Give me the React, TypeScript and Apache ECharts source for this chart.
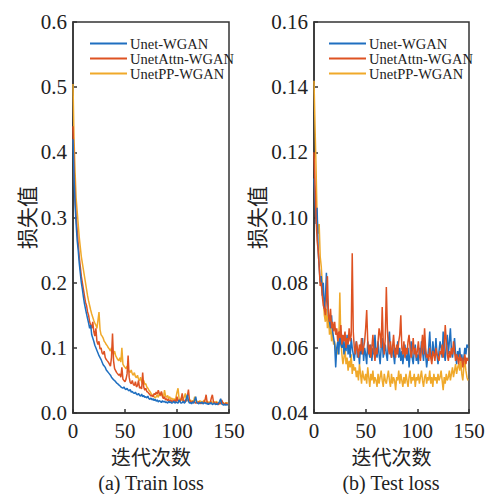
import React, { useEffect, useRef } from "react";
import * as echarts from "echarts";

const seriesNames = ["Unet-WGAN", "UnetAttn-WGAN", "UnetPP-WGAN"];
const colors = ["#1f6fc0", "#de5222", "#f0a92a"];

const trainTicks = [0, 0.1, 0.2, 0.3, 0.4, 0.5, 0.6];
const testTicks = [0.04, 0.06, 0.08, 0.1, 0.12, 0.14, 0.16];
const xTicks = [0, 50, 100, 150];

const trainUnet = [
  0.42,0.36,0.32,0.29,0.265,0.25,0.23,0.215,0.2,0.19,
  0.178,0.168,0.16,0.152,0.145,0.138,0.13,0.135,0.12,0.115,
  0.11,0.104,0.1,0.096,0.092,0.088,0.085,0.082,0.078,0.074,
  0.072,0.07,0.066,0.064,0.062,0.06,0.058,0.055,0.053,0.051,
  0.05,0.048,0.046,0.045,0.043,0.042,0.04,0.039,0.038,0.04,
  0.037,0.036,0.038,0.035,0.034,0.036,0.032,0.033,0.031,0.03,
  0.032,0.029,0.028,0.03,0.027,0.026,0.029,0.025,0.027,0.024,
  0.025,0.023,0.026,0.022,0.021,0.023,0.02,0.022,0.019,0.021,
  0.018,0.02,0.017,0.019,0.018,0.016,0.019,0.017,0.018,0.016,
  0.017,0.015,0.018,0.016,0.017,0.015,0.016,0.018,0.015,0.017,
  0.016,0.015,0.02,0.017,0.015,0.016,0.018,0.015,0.017,0.022,
  0.028,0.018,0.015,0.016,0.014,0.017,0.015,0.02,0.025,0.016,
  0.015,0.014,0.016,0.015,0.017,0.014,0.015,0.016,0.014,0.015,
  0.013,0.015,0.014,0.016,0.013,0.014,0.015,0.013,0.014,0.013,
  0.015,0.018,0.022,0.014,0.013,0.012,0.014,0.012,0.013,0.012,
];
const trainAttn = [
  0.44,0.38,0.33,0.3,0.28,0.26,0.24,0.225,0.21,0.2,
  0.19,0.18,0.17,0.165,0.155,0.15,0.14,0.135,0.13,0.14,
  0.125,0.118,0.13,0.11,0.105,0.11,0.098,0.1,0.092,0.09,
  0.095,0.085,0.082,0.08,0.078,0.075,0.072,0.085,0.122,0.08,
  0.068,0.065,0.062,0.06,0.058,0.06,0.055,0.07,0.052,0.05,
  0.048,0.052,0.06,0.088,0.055,0.047,0.045,0.05,0.044,0.042,
  0.048,0.04,0.042,0.05,0.038,0.04,0.037,0.062,0.04,0.035,
  0.038,0.033,0.032,0.03,0.028,0.026,0.027,0.025,0.03,0.028,
  0.032,0.029,0.035,0.03,0.027,0.033,0.025,0.022,0.025,0.02,
  0.022,0.019,0.021,0.018,0.02,0.017,0.019,0.018,0.02,0.017,
  0.025,0.018,0.02,0.017,0.022,0.03,0.019,0.017,0.02,0.018,
  0.026,0.036,0.02,0.017,0.016,0.018,0.016,0.017,0.015,0.016,
  0.015,0.017,0.016,0.014,0.016,0.015,0.017,0.02,0.028,0.016,
  0.015,0.014,0.016,0.023,0.028,0.018,0.015,0.014,0.016,0.014,
  0.013,0.015,0.014,0.02,0.016,0.014,0.013,0.015,0.014,0.013,
];
const trainPP = [
  0.505,0.42,0.37,0.33,0.31,0.29,0.27,0.255,0.24,0.23,
  0.22,0.21,0.2,0.19,0.18,0.172,0.165,0.158,0.152,0.147,
  0.142,0.138,0.135,0.13,0.142,0.155,0.128,0.12,0.118,0.115,
  0.11,0.108,0.105,0.103,0.1,0.098,0.095,0.1,0.093,0.09,
  0.095,0.088,0.085,0.082,0.08,0.085,0.078,0.1,0.075,0.072,
  0.07,0.068,0.072,0.066,0.064,0.062,0.066,0.06,0.058,0.062,
  0.056,0.054,0.058,0.052,0.05,0.055,0.048,0.046,0.05,0.044,
  0.045,0.04,0.038,0.035,0.033,0.03,0.028,0.026,0.025,0.023,
  0.025,0.028,0.024,0.03,0.026,0.032,0.027,0.024,0.035,0.026,
  0.024,0.027,0.022,0.025,0.021,0.023,0.02,0.022,0.019,0.024,
  0.032,0.038,0.022,0.02,0.023,0.019,0.021,0.025,0.03,0.02,
  0.019,0.021,0.018,0.02,0.017,0.019,0.018,0.025,0.019,0.017,
  0.018,0.016,0.019,0.017,0.018,0.016,0.02,0.017,0.016,0.018,
  0.016,0.017,0.015,0.018,0.016,0.015,0.017,0.016,0.018,0.015,
  0.016,0.015,0.017,0.014,0.016,0.015,0.014,0.016,0.015,0.016,
];

const testUnet = [
  0.112,0.105,0.098,0.103,0.09,0.085,0.08,0.082,0.076,0.08,
  0.072,0.075,0.083,0.075,0.07,0.068,0.066,0.07,0.065,0.063,
  0.061,0.054,0.06,0.062,0.058,0.065,0.061,0.06,0.063,0.058,
  0.062,0.059,0.064,0.058,0.061,0.057,0.063,0.06,0.058,0.056,
  0.06,0.062,0.057,0.059,0.055,0.061,0.058,0.063,0.056,0.06,
  0.058,0.055,0.062,0.059,0.057,0.061,0.056,0.06,0.058,0.064,
  0.059,0.057,0.062,0.058,0.055,0.06,0.063,0.057,0.059,0.061,
  0.058,0.056,0.062,0.065,0.059,0.057,0.061,0.058,0.055,0.06,
  0.058,0.062,0.057,0.06,0.056,0.059,0.055,0.058,0.061,0.057,
  0.056,0.06,0.054,0.058,0.062,0.057,0.055,0.059,0.061,0.056,
  0.058,0.055,0.06,0.057,0.062,0.059,0.056,0.061,0.058,0.054,
  0.057,0.06,0.065,0.058,0.056,0.062,0.059,0.057,0.063,0.058,
  0.055,0.059,0.062,0.06,0.057,0.065,0.058,0.056,0.061,0.064,
  0.058,0.062,0.066,0.059,0.057,0.06,0.063,0.058,0.055,0.059,
  0.057,0.06,0.056,0.058,0.055,0.057,0.06,0.058,0.061,0.06,
];
const testAttn = [
  0.12,0.11,0.1,0.093,0.09,0.085,0.079,0.08,0.076,0.073,
  0.072,0.07,0.075,0.082,0.07,0.068,0.072,0.066,0.068,0.065,
  0.068,0.064,0.066,0.062,0.065,0.063,0.067,0.061,0.064,0.062,
  0.065,0.06,0.063,0.061,0.066,0.062,0.064,0.089,0.065,0.06,
  0.058,0.062,0.06,0.057,0.061,0.059,0.063,0.058,0.06,0.062,
  0.066,0.0716,0.062,0.058,0.061,0.057,0.06,0.064,0.059,0.056,
  0.06,0.058,0.062,0.066,0.064,0.06,0.0725,0.062,0.058,0.063,
  0.0787,0.066,0.06,0.058,0.062,0.057,0.06,0.064,0.059,0.057,
  0.061,0.058,0.062,0.064,0.07,0.06,0.058,0.062,0.057,0.06,
  0.058,0.062,0.064,0.06,0.057,0.059,0.063,0.058,0.06,0.057,
  0.059,0.062,0.058,0.056,0.06,0.064,0.058,0.066,0.06,0.057,
  0.058,0.056,0.06,0.057,0.055,0.059,0.058,0.056,0.06,0.058,
  0.057,0.056,0.059,0.058,0.061,0.057,0.06,0.067,0.062,0.058,
  0.056,0.059,0.057,0.06,0.058,0.062,0.059,0.056,0.058,0.057,
  0.055,0.058,0.056,0.057,0.054,0.056,0.058,0.055,0.057,0.056,
];
const testPP = [
  0.142,0.128,0.115,0.1,0.095,0.098,0.088,0.085,0.08,0.075,
  0.07,0.068,0.072,0.066,0.07,0.064,0.068,0.062,0.065,0.061,
  0.062,0.059,0.06,0.058,0.062,0.077,0.062,0.058,0.055,0.057,
  0.06,0.055,0.057,0.053,0.056,0.054,0.058,0.052,0.055,0.053,
  0.054,0.051,0.053,0.05,0.055,0.052,0.049,0.053,0.051,0.05,
  0.052,0.049,0.054,0.051,0.048,0.052,0.05,0.053,0.049,0.051,
  0.05,0.048,0.052,0.049,0.051,0.053,0.05,0.048,0.052,0.05,
  0.049,0.051,0.053,0.05,0.048,0.052,0.049,0.051,0.05,0.047,
  0.051,0.05,0.053,0.049,0.052,0.05,0.048,0.051,0.049,0.052,
  0.05,0.048,0.051,0.053,0.049,0.051,0.05,0.052,0.048,0.051,
  0.05,0.052,0.049,0.051,0.053,0.05,0.048,0.051,0.052,0.049,
  0.051,0.05,0.053,0.049,0.051,0.048,0.052,0.05,0.051,0.049,
  0.052,0.05,0.051,0.053,0.05,0.047,0.051,0.049,0.052,0.05,
  0.051,0.053,0.05,0.052,0.054,0.051,0.053,0.055,0.052,0.054,
  0.055,0.053,0.057,0.052,0.05,0.054,0.056,0.053,0.051,0.05,
];

const SERIF = "Liberation Serif";
const CJK = "Noto Sans CJK SC";
const TXT = "#222";

function toPairs(vals: number[]) {
  return vals.map((v, i) => [i, v]);
}

export default function App() {
  const ref = useRef<HTMLDivElement>(null);
  useEffect(() => {
    if (!ref.current) return;
    const chart = echarts.init(ref.current, undefined, { renderer: "svg" });
    const grids = [
      { left: 73, top: 22, width: 156, height: 391, show: true, borderColor: "#333", borderWidth: 1.5, backgroundColor: "transparent" },
      { left: 314, top: 22, width: 155, height: 391, show: true, borderColor: "#333", borderWidth: 1.5, backgroundColor: "transparent" },
    ];
    const makeX = (gi: number) => ({
      type: "value",
      gridIndex: gi,
      min: 0,
      max: 150,
      interval: 50,
      name: "迭代次数",
      nameLocation: "middle",
      nameGap: 33,
      nameTextStyle: { fontFamily: CJK, fontSize: 20, color: TXT, lineHeight: 20, verticalAlign: "top" },
      axisLine: { show: true, lineStyle: { color: "#333", width: 1.5 } },
      axisTick: { show: true, inside: true, length: 4, lineStyle: { color: "#333", width: 1.5 } },
      axisLabel: { fontFamily: SERIF, fontSize: 21, color: TXT, margin: 7, formatter: (v: number) => (xTicks.includes(v) ? String(v) : "") },
      splitLine: { show: false },
    });
    const makeY = (gi: number, ticks: number[], digits: number, gap: number) => ({
      type: "value",
      gridIndex: gi,
      min: ticks[0],
      max: ticks[ticks.length - 1],
      interval: ticks[1] - ticks[0],
      name: "损失值",
      nameLocation: "middle",
      nameGap: gap,
      nameTextStyle: { fontFamily: CJK, fontSize: 21, color: TXT },
      axisLine: { show: true, lineStyle: { color: "#333", width: 1.5 } },
      axisTick: { show: true, inside: true, length: 4, lineStyle: { color: "#333", width: 1.5 } },
      axisLabel: { fontFamily: SERIF, fontSize: 21, color: TXT, margin: 6, formatter: (v: number) => v.toFixed(digits) },
      splitLine: { show: false },
    });
    const trainSets = [trainUnet, trainAttn, trainPP];
    const testSets = [testUnet, testAttn, testPP];
    const series: any[] = [];
    trainSets.forEach((vals, k) =>
      series.push({
        type: "line", name: seriesNames[k], xAxisIndex: 0, yAxisIndex: 0,
        data: toPairs(vals), showSymbol: false, symbol: "none",
        lineStyle: { color: colors[k], width: 1.5 }, itemStyle: { color: colors[k] }, z: k === 0 ? 4 : k === 1 ? 3 : 2,
      })
    );
    testSets.forEach((vals, k) =>
      series.push({
        type: "line", name: seriesNames[k], xAxisIndex: 1, yAxisIndex: 1,
        data: toPairs(vals), showSymbol: false, symbol: "none",
        lineStyle: { color: colors[k], width: 1.5 }, itemStyle: { color: colors[k] }, z: k === 0 ? 3 : k === 1 ? 4 : 2,
      })
    );
    const legendBase = {
      orient: "vertical",
      top: 36,
      itemGap: 0,
      itemWidth: 37,
      itemHeight: 2,
      icon: "rect",
      data: seriesNames,
      textStyle: { fontFamily: SERIF, fontSize: 14.5, color: TXT, lineHeight: 14, padding: [0, 0, 0, -2] },
      padding: 0,
    };
    chart.setOption({
      animation: false,
      backgroundColor: "#fff",
      textStyle: { fontFamily: SERIF },
      grid: grids,
      xAxis: [makeX(0), makeX(1)],
      yAxis: [makeY(0, trainTicks, 1, 37), makeY(1, testTicks, 2, 48)],
      legend: [
        { ...legendBase, left: 90 },
        { ...legendBase, left: 329 },
      ],
      title: [
        { text: "(a) Train loss", left: 151, top: 473, textAlign: "center", padding: 0, textStyle: { fontFamily: SERIF, fontSize: 20, lineHeight: 20, fontWeight: "normal", color: TXT } },
        { text: "(b) Test loss", left: 391, top: 473, textAlign: "center", padding: 0, textStyle: { fontFamily: SERIF, fontSize: 20, lineHeight: 20, fontWeight: "normal", color: TXT } },
      ],
      series,
    });
    return () => chart.dispose();
  }, []);
  return <div ref={ref} style={{ position: "absolute", left: 0, top: 0, width: 492, height: 494 }} />;
}
